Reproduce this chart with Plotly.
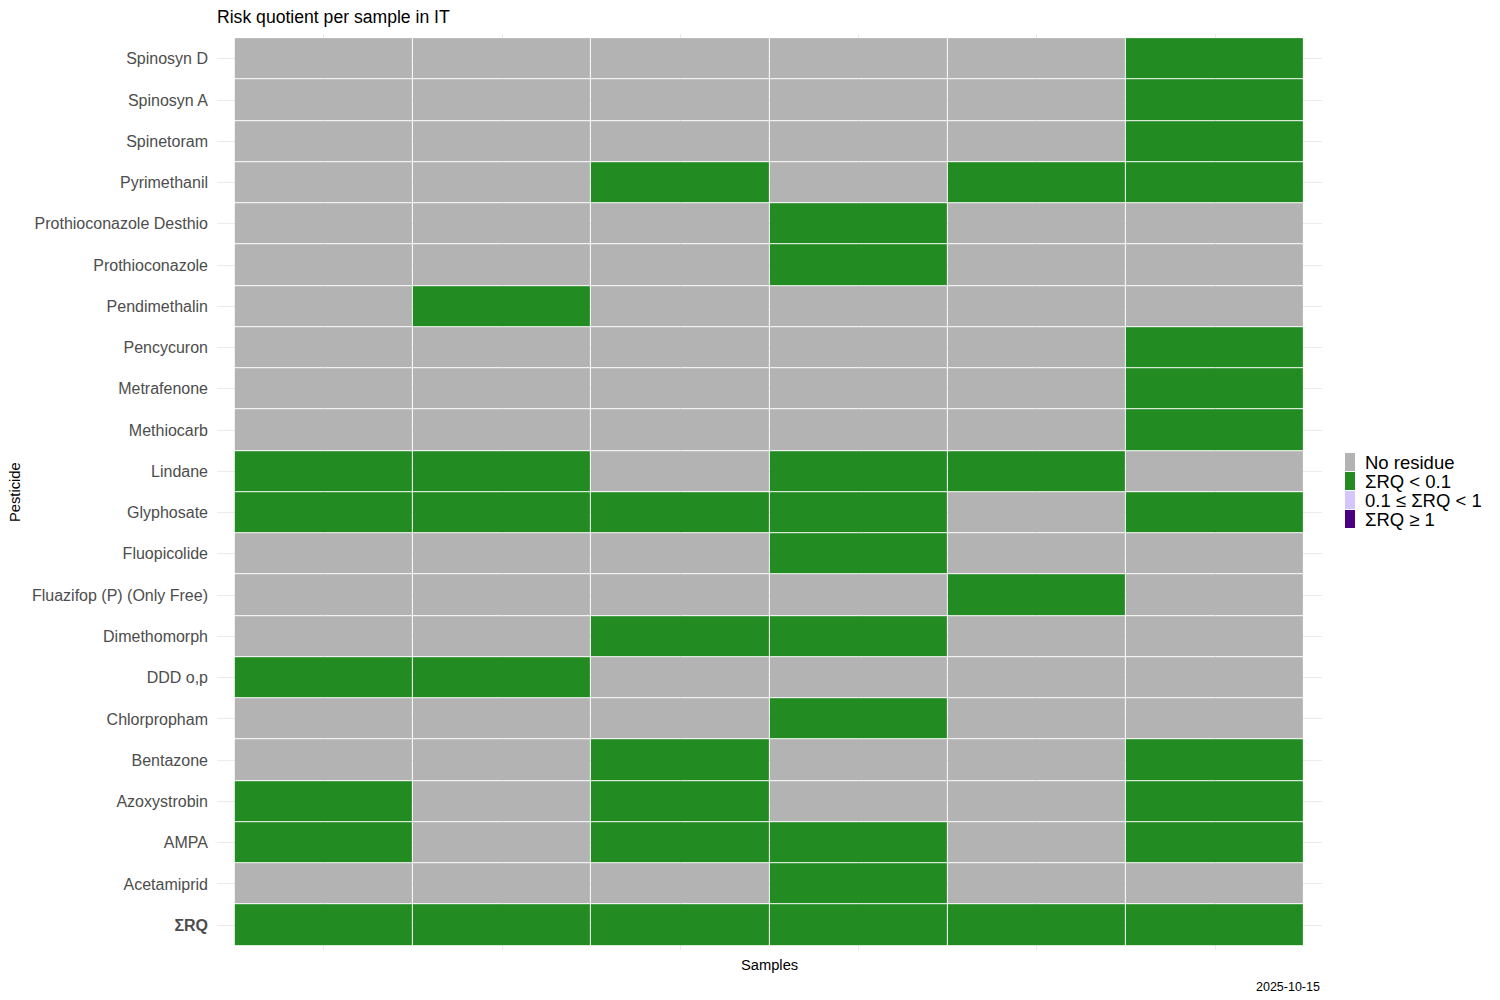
import plotly.graph_objects as go

# ---- data ----
samples = ["S1", "S2", "S3", "S4", "S5", "S6"]
# rows listed from top to bottom as in the chart
pesticides_top_down = [
    "Spinosyn D", "Spinosyn A", "Spinetoram", "Pyrimethanil",
    "Prothioconazole Desthio", "Prothioconazole", "Pendimethalin",
    "Pencycuron", "Metrafenone", "Methiocarb", "Lindane", "Glyphosate",
    "Fluopicolide", "Fluazifop (P) (Only Free)", "Dimethomorph", "DDD o,p",
    "Chlorpropham", "Bentazone", "Azoxystrobin", "AMPA", "Acetamiprid", "ΣRQ",
]
# risk class per sample: 0 = No residue, 1 = ΣRQ < 0.1, 2 = 0.1 ≤ ΣRQ < 1, 3 = ΣRQ ≥ 1
risk_class_top_down = [
    [0, 0, 0, 0, 0, 1],
    [0, 0, 0, 0, 0, 1],
    [0, 0, 0, 0, 0, 1],
    [0, 0, 1, 0, 1, 1],
    [0, 0, 0, 1, 0, 0],
    [0, 0, 0, 1, 0, 0],
    [0, 1, 0, 0, 0, 0],
    [0, 0, 0, 0, 0, 1],
    [0, 0, 0, 0, 0, 1],
    [0, 0, 0, 0, 0, 1],
    [1, 1, 0, 1, 1, 0],
    [1, 1, 1, 1, 0, 1],
    [0, 0, 0, 1, 0, 0],
    [0, 0, 0, 0, 1, 0],
    [0, 0, 1, 1, 0, 0],
    [1, 1, 0, 0, 0, 0],
    [0, 0, 0, 1, 0, 0],
    [0, 0, 1, 0, 0, 1],
    [1, 0, 1, 0, 0, 1],
    [1, 0, 1, 1, 0, 1],
    [0, 0, 0, 1, 0, 0],
    [1, 1, 1, 1, 1, 1],
]
class_labels = ["No residue", "ΣRQ < 0.1", "0.1 ≤ ΣRQ < 1", "ΣRQ ≥ 1"]
class_colors = ["#B3B3B3", "#228B22", "#D4C6FA", "#4B0082"]
title_text = "Risk quotient per sample in IT"
x_title = "Samples"
y_title = "Pesticide"
caption = "2025-10-15"

# bottom-to-top order for the y axis
pesticides = pesticides_top_down[::-1]
risk_class = risk_class_top_down[::-1]
ticktext = ["<b>%s</b>" % p if p == "ΣRQ" else p for p in pesticides]

n = len(class_colors)
colorscale = []
for i, c in enumerate(class_colors):
    colorscale.append([i / n, c])
    colorscale.append([(i + 1) / n, c])

FONT = "Liberation Sans, Arial, sans-serif"

fig = go.Figure()
fig.add_trace(go.Heatmap(
    x=samples, y=pesticides, z=risk_class,
    colorscale=colorscale, zmin=-0.5, zmax=n - 0.5,
    showscale=False, xgap=1, ygap=1,
    customdata=[[class_labels[v] for v in row] for row in risk_class],
    hovertemplate="%{y}<br>%{x}<br>%{customdata}<extra></extra>",
))

OFF = 8  # page offset of the figure in the browser window
W, H = 1500, 1000
# panel edges in window pixels
PL, PR, PT, PB = 217, 1322, 34, 950
L, R = PL - OFF, W - (PR - OFF)
T, B = PT - OFF, H - (PB - OFF)
pw, ph = W - L - R, H - T - B


def px_x(x):
    return (x - PL) / pw


def px_y(y):
    return (PB - y) / ph


fig.update_layout(
    width=W, height=H,
    margin=dict(l=L, r=R, t=T, b=B, pad=0),
    paper_bgcolor="white", plot_bgcolor="white",
    font=dict(family=FONT),
    showlegend=False,
    title=dict(text=title_text, x=0, xanchor="left", xref="paper",
               y=1 - (17 - OFF) / H, yanchor="middle", yref="container",
               font=dict(size=17.6, color="black", family=FONT)),
    xaxis=dict(type="category", categoryarray=samples, range=[-0.6, len(samples) - 0.4],
               showgrid=True, gridcolor="#EBEBEB", gridwidth=1.1,
               showticklabels=False, ticks="", zeroline=False, showline=False,
               fixedrange=True),
    yaxis=dict(type="category", categoryarray=pesticides,
               range=[-0.6, len(pesticides) - 0.4],
               tickvals=pesticides, ticktext=ticktext,
               showgrid=True, gridcolor="#EBEBEB", gridwidth=1.1,
               ticks="", ticklabelstandoff=8,
               tickfont=dict(size=16, color="#4D4D4D", family=FONT),
               zeroline=False, showline=False, fixedrange=True),
)

anns = [
    dict(text=x_title, x=0.5, y=px_y(965), xref="paper", yref="paper",
         xanchor="center", yanchor="middle", showarrow=False,
         font=dict(size=14.7, color="black", family=FONT)),
    dict(text=y_title, x=px_x(15), y=0.5, xref="paper", yref="paper",
         xanchor="center", yanchor="middle", textangle=-90,
         showarrow=False, font=dict(size=14.7, color="black", family=FONT)),
    dict(text=caption, x=1, y=px_y(987), xref="paper", yref="paper",
         xanchor="right", yanchor="middle", showarrow=False,
         font=dict(size=12.5, color="black", family=FONT)),
]

# manual legend (keys + labels)
shapes = []
key_x0, key_x1, key_top, key_h = 1345, 1355, 453, 19
for i, (lab, col) in enumerate(zip(class_labels, class_colors)):
    y0 = key_top + i * key_h
    y1 = y0 + key_h - 1
    shapes.append(dict(type="rect", xref="paper", yref="paper",
                       x0=px_x(key_x0), x1=px_x(key_x1),
                       y0=px_y(y1), y1=px_y(y0),
                       fillcolor=col, line=dict(width=0), layer="above"))
    anns.append(dict(text=lab, xref="paper", yref="paper",
                     x=px_x(1363), y=px_y((y0 + y1) / 2),
                     xanchor="left", yanchor="middle", showarrow=False,
                     font=dict(size=18.5, color="black", family=FONT)))

fig.update_layout(annotations=anns, shapes=shapes)
fig.write_html("out.html")
